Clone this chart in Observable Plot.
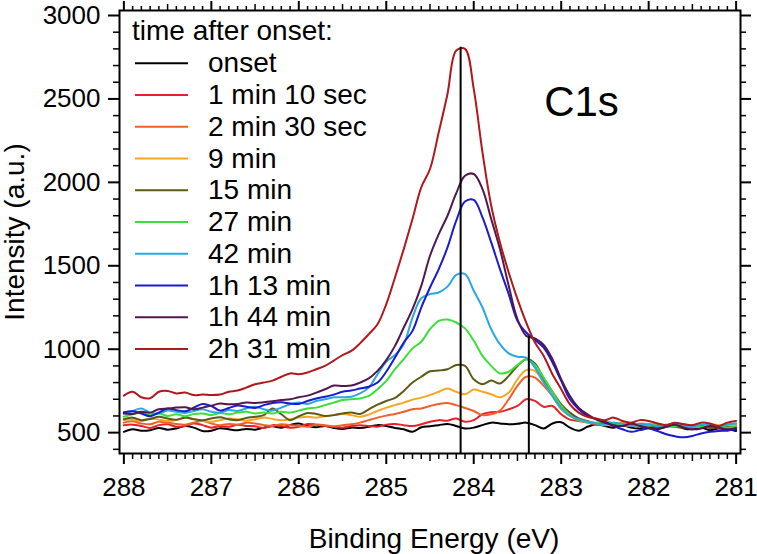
<!DOCTYPE html>
<html><head><meta charset="utf-8">
<script src="https://cdn.jsdelivr.net/npm/d3@7"></script>
<script src="https://cdn.jsdelivr.net/npm/@observablehq/plot@0.6"></script>
<style>body{margin:0;background:#fff;}</style>
</head><body><div id="chart"></div>
<script>
// Binding energy grid (eV), 288.0 -> 281.0 in 0.1 eV steps
const energies = d3.range(71).map(i => +(288 - i * 0.1).toFixed(1));

const seriesNames = ["onset","1 min 10 sec","2 min 30 sec","9 min","15 min","27 min","42 min","1h 13 min","1h 44 min","2h 31 min"];
const seriesColors = ["#000000","#e8202a","#f0602a","#f5a623","#5e5a16","#3ae03a","#2aa8e0","#1a1ad0","#50184f","#b0181c"];

const onset = [505,520,512,515,528,518,525,540,530,510, 512,526,520,515,522,518,530,538,530,545, 555,540,532,540,528,522,530,528,535,545, 540,528,520,505,532,538,545,552,540,525, 530,545,560,555,550,553,560,545,525,555, 562,530,512,535,550,540,530,545,530,525, 540,520,535,545,525,520,530,515,525,520, 510];
const m1s10 = [545,548,540,528,545,550,535,540,555,545, 530,540,535,548,540,538,528,545,540,530, 535,552,548,540,535,530,540,545,540,535, 548,552,545,540,550,565,575,572,585,565, 575,610,622,625,640,660,700,690,655,660, 610,578,570,560,548,555,540,552,545,535, 540,530,545,535,540,532,545,530,538,542, 530];
const m2s30 = [560,568,555,550,565,560,552,548,560,570, 555,545,552,548,560,555,545,540,550,545, 540,535,548,545,538,545,550,560,575,590, 602,612,625,640,645,660,672,678,665,648, 630,605,610,632,700,780,835,830,780,720, 650,605,580,565,555,548,560,545,540,555, 548,535,545,550,538,530,545,540,530,545, 540];
const min9 = [575,580,570,585,578,570,575,590,582,570, 565,575,585,580,572,580,590,582,575,580, 590,595,590,598,605,612,605,595,608,630, 650,665,680,698,710,725,745,765,745,730, 758,745,730,712,740,820,875,870,800,720, 640,600,575,560,555,545,552,560,545,540, 552,548,535,545,550,540,535,550,545,540, 548];
const min15 = [580,590,575,582,595,585,578,590,580,575, 585,592,580,575,588,595,605,645,610,575, 598,618,612,600,605,615,620,612,640,668, 690,708,750,800,835,868,872,880,905,900, 820,790,812,795,840,900,940,915,820,745, 670,620,585,570,555,560,548,540,552,545, 535,540,548,535,530,545,540,528,540,535, 530];
const min27 = [595,610,620,605,615,600,610,598,612,615, 605,618,610,620,625,615,620,615,625,620, 632,645,650,665,680,695,700,705,720,760, 810,880,940,1005,1045,1120,1170,1178,1160,1125, 1052,960,900,855,865,905,940,905,830,745, 660,605,575,565,560,570,555,548,560,545, 540,555,540,535,548,540,532,545,538,530, 535];
const min42 = [615,630,645,620,615,632,625,618,630,640, 625,620,635,630,645,655,640,632,650,670, 680,672,690,700,712,712,715,735,770,850, 925,965,1030,1190,1305,1330,1340,1375,1445,1450, 1350,1250,1120,1030,975,955,950,890,800,720, 645,600,580,565,555,548,560,552,540,545, 550,538,545,555,542,535,548,545,538,550, 555];
const h1m13 = [622,628,615,598,620,645,635,628,650,672, 660,632,648,662,655,648,665,678,682,675, 672,690,705,715,728,745,752,764,775,800, 865,950,1040,1110,1250,1370,1480,1610,1770,1885, 1895,1790,1640,1480,1330,1170,1100,1055,1010,920, 810,700,640,600,580,565,540,520,505,515, 525,510,490,478,472,480,495,505,510,512, 520];
const h1m44 = [614,612,625,620,640,644,650,652,640,650, 662,674,670,672,680,678,682,688,695,700, 712,722,740,760,782,780,782,800,825,870, 935,1020,1130,1240,1380,1560,1690,1800,1935,2040, 2050,1960,1780,1600,1380,1180,1080,1065,1025,940, 820,720,650,610,580,560,545,540,555,540, 530,525,535,548,530,520,525,540,530,520, 528];
const h2m31 = [722,745,712,706,745,750,735,740,725,728, 725,728,745,752,770,790,800,812,835,855, 850,860,880,900,932,965,990,1035,1090,1150, 1270,1430,1600,1780,1970,2080,2300,2530,2790,2800, 2560,2180,1860,1640,1460,1300,1160,1040,960,850, 760,670,620,595,585,575,590,570,560,575, 570,555,545,560,550,545,560,555,540,560, 570];

const seriesValues = [onset, m1s10, m2s30, min9, min15, min27, min42, h1m13, h1m44, h2m31];

// reference lines (peak positions)
const peakPositions = [284.15, 283.37];
const peakHeights = [2810, 1075];

const legendTitle = "time after onset:";
const panelLabel = "C1s";
const xLabel = "Binding Energy (eV)";
const yLabel = "Intensity (a.u.)";

const xMajor = [288,287,286,285,284,283,282,281];
const xMid = [287.5,286.5,285.5,284.5,283.5,282.5,281.5];
const xMinor = d3.range(281, 288.001, 0.1).map(v => +v.toFixed(1)).filter(v => Math.abs(v * 2 - Math.round(v * 2)) > 1e-6);
const yMajor = [500,1000,1500,2000,2500,3000];
const yMinor = d3.range(400, 3001, 100).filter(v => v % 500 !== 0);

const rows = [];
seriesValues.forEach((vals, si) => vals.forEach((v, i) => rows.push({E: energies[i], v, s: seriesNames[si]})));
const rules = peakPositions.map((x, i) => ({x, top: peakHeights[i]}));

const yMin = 375, yMax = 3030;
const font = "'Liberation Sans', Arial, sans-serif";
const blank = () => "";

const chart = Plot.plot({
  width: 757, height: 554,
  marginLeft: 119, marginRight: 17, marginTop: 10, marginBottom: 101,
  style: {fontFamily: font, background: "white", color: "black"},
  x: {domain: [288.05, 280.95]},
  y: {domain: [yMin, yMax]},
  color: {domain: seriesNames, range: seriesColors},
  marks: [
    Plot.line(rows, {x: "E", y: "v", z: "s", stroke: "s", strokeWidth: 2, curve: "catmull-rom"}),
    Plot.ruleX(rules, {x: "x", y1: yMin, y2: "top", stroke: "black", strokeWidth: 2}),
    Plot.frame({stroke: "black", strokeWidth: 2}),
    // bottom
    Plot.axisX(xMajor, {anchor: "bottom", tickSize: 11, tickPadding: 13, fontSize: 26, strokeWidth: 2, tickFormat: d => String(d), label: null}),
    Plot.axisX(xMid, {anchor: "bottom", tickSize: 8, strokeWidth: 1.5, tickFormat: blank, label: null}),
    Plot.axisX(xMinor, {anchor: "bottom", tickSize: 6, strokeWidth: 1.5, tickFormat: blank, label: null}),
    // top
    Plot.axisX(xMajor, {anchor: "top", tickSize: 10, strokeWidth: 2, tickFormat: blank, label: null}),
    Plot.axisX(xMid, {anchor: "top", tickSize: 7, strokeWidth: 1.5, tickFormat: blank, label: null}),
    Plot.axisX(xMinor, {anchor: "top", tickSize: 5, strokeWidth: 1.5, tickFormat: blank, label: null}),
    // left
    Plot.axisY(yMajor, {anchor: "left", tickSize: 11, tickPadding: 8, fontSize: 26, strokeWidth: 2, tickFormat: d => String(d), label: null}),
    Plot.axisY(yMinor, {anchor: "left", tickSize: 6, strokeWidth: 1.5, tickFormat: blank, label: null}),
    // right
    Plot.axisY(yMajor, {anchor: "right", tickSize: 10, strokeWidth: 2, tickFormat: blank, label: null}),
    Plot.axisY(yMinor, {anchor: "right", tickSize: 5, strokeWidth: 1.5, tickFormat: blank, label: null}),
    Plot.text([panelLabel], {text: d => d, frameAnchor: "top-left", dx: 462, dy: 92, fontSize: 42, textAnchor: "middle", lineAnchor: "middle"}),
    Plot.text([xLabel], {text: d => d, frameAnchor: "bottom", dx: 4, dy: 94, fontSize: 28, textAnchor: "middle", lineAnchor: "bottom"}),
    Plot.text([yLabel], {text: d => d, frameAnchor: "left", dx: -96, rotate: -90, fontSize: 28, textAnchor: "middle", lineAnchor: "bottom"})
  ]
});

// in-plot legend
const svg = d3.select(chart);
const g = svg.append("g").attr("font-family", font).attr("font-size", 28).attr("fill", "black").attr("text-anchor", "start");
g.append("text").attr("x", 132).attr("y", 40).attr("text-anchor", "start").text(legendTitle);
seriesNames.forEach((name, i) => {
  const y = 63.3 + i * 31.75;
  g.append("line").attr("x1", 135).attr("x2", 188).attr("y1", y).attr("y2", y)
    .attr("stroke", seriesColors[i]).attr("stroke-width", 2);
  g.append("text").attr("x", 208).attr("y", y + 9).attr("text-anchor", "start").text(name);
});

document.getElementById("chart").append(chart);
</script>
</body></html>
